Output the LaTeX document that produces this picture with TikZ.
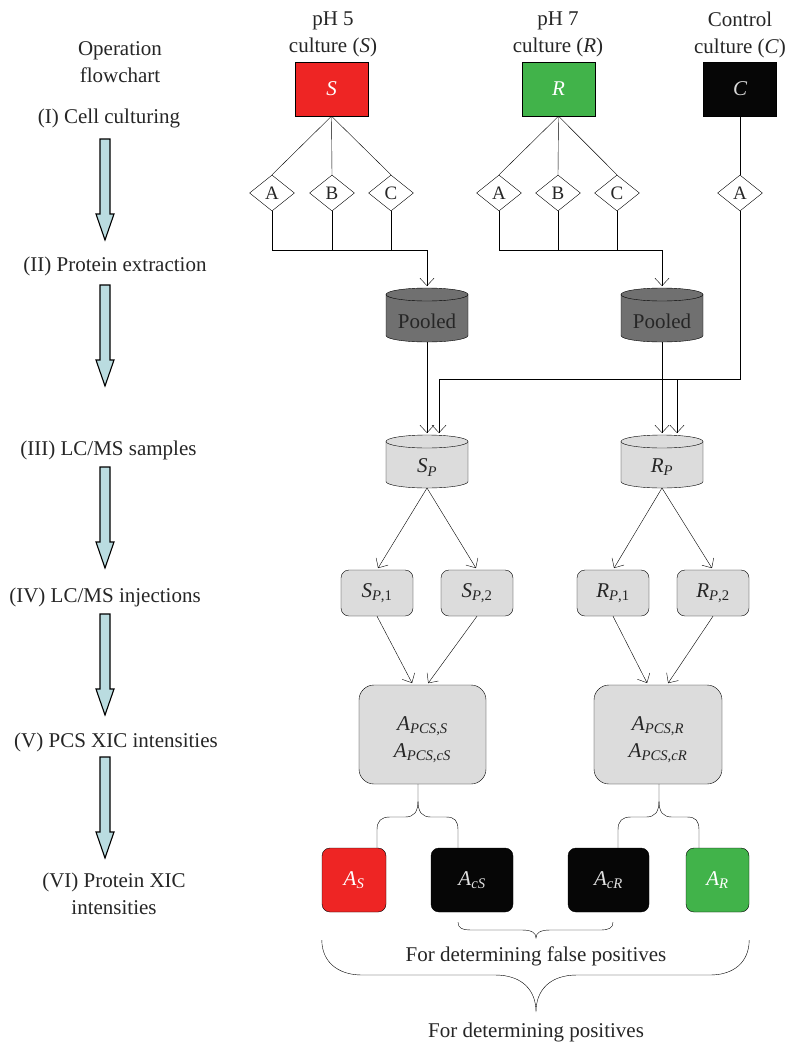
\documentclass[tikz,border=0pt]{standalone}
\usepackage{fontspec}
\setmainfont{Liberation Serif}
\usetikzlibrary{shapes.geometric,arrows.meta,calc}
\pgfdeclarelayer{bg}
\pgfsetlayers{bg,main}
\definecolor{redS}{HTML}{EE2524}
\definecolor{grnR}{HTML}{41B34A}
\definecolor{blkC}{HTML}{060606}
\definecolor{lgray}{HTML}{DCDCDC}
\definecolor{dgray}{HTML}{707070}
\definecolor{arrfill}{HTML}{BADCE0}
\definecolor{ink}{HTML}{262626}
\newcommand\cylbody[2]{%
  \begin{pgfonlayer}{bg}
  \path[draw,fill=#2] ($(#1.north west)+(0,6.5)$) -- ($(#1.south west)+(0,-6.5)$)
     arc[start angle=180,end angle=360,x radius=41pt,y radius=6.5pt]
     -- ($(#1.north east)+(0,6.5)$) -- cycle;
  \path[draw,fill=#2] ($(#1.north)+(0,6.5)$) ellipse[x radius=41pt,y radius=6.5pt];
  \end{pgfonlayer}}
\newcommand\stepArrow[1]{%
  \draw[fill=arrfill,line width=1.1pt] (100,#1) -- (110,#1) -- (110,#1+75) -- (114,#1+75)
    -- (105,#1+101) -- (96,#1+75) -- (100,#1+75) -- cycle;}
\tikzset{
  culture/.style={draw,minimum width=73pt,minimum height=54pt,inner sep=0pt,text=white,font=\fontsize{21}{25}\selectfont\itshape},
  dia/.style={diamond,draw,fill=white,aspect=1.25,minimum width=45pt,minimum height=36pt,inner sep=0pt,font=\fontsize{19}{22}\selectfont},
  cyl/.style={minimum width=82pt,minimum height=54pt,inner sep=0pt,outer sep=0pt},
  inj/.style={draw,fill=lgray,rounded corners=8pt,minimum width=72pt,minimum height=46pt,inner sep=0pt},
  big/.style={draw,fill=lgray,rounded corners=15pt,minimum width=127pt,minimum height=99pt,inner sep=0pt},
  res/.style={draw,rounded corners=8pt,minimum height=64pt,text=white,inner sep=0pt},
  arr/.style={-{Straight Barb[length=7.5pt,width=14pt]},shorten >=2pt},
}
\begin{document}
\begin{tikzpicture}[x=1pt,y=-1pt,line width=1.7pt,text=ink,font=\fontsize{21}{27}\selectfont]
\begin{pgfonlayer}{bg}
\fill[white] (0,0) rectangle (787,1045);
\end{pgfonlayer}
\useasboundingbox (0,0) rectangle (787,1045);

% left column
\node[align=center] (op) at (120,62) {Operation\\flowchart};
\node (s1) at (109,118) {(I) Cell culturing};
\node (s2) at (115,266) {(II) Protein extraction};
\node (s3) at (108.5,450) {(III) LC/MS samples};
\node (s4) at (105,597) {(IV) LC/MS injections};
\node (s5) at (116,742) {(V) PCS XIC intensities};
\node[align=center] (s6) at (114,894) {(VI) Protein XIC\\intensities};
\stepArrow{139}
\stepArrow{285}
\stepArrow{467}
\stepArrow{614}
\stepArrow{757}

% titles
\node[align=center] (tS) at (333,34.5) {pH 5\\culture (\textit{S})};
\node[align=center] (tR) at (558,34.5) {pH 7\\culture (\textit{R})};
\node[align=center] (tC) at (740,34.5) {Control\\culture (\textit{C})};

% culture boxes
\node[culture,fill=redS] (S) at (331.5,89) {S};
\node[culture,fill=grnR] (R) at (558.5,89) {R};
\node[culture,fill=blkC,text=white!85!black] (C) at (740,89) {C};

% diamonds
\node[dia] (SA) at (272,193) {A};
\node[dia] (SB) at (332,193) {B};
\node[dia] (SC) at (391,193) {C};
\node[dia] (RA) at (499,193) {A};
\node[dia] (RB) at (558,193) {B};
\node[dia] (RC) at (617,193) {C};
\node[dia] (CA) at (740,193) {A};
\foreach \d in {SA,SB,SC} \draw (S.south) -- (\d.north);
\foreach \d in {RA,RB,RC} \draw (R.south) -- (\d.north);
\draw (C.south) -- (CA.north);

% pooled
\node[cyl,label={[yshift=-6pt]center:Pooled}] (poolS) at (427,315) {};
\node[cyl,label={[yshift=-6pt]center:Pooled}] (poolR) at (662,315) {};
\cylbody{poolS}{dgray}
\cylbody{poolR}{dgray}

\coordinate (jS) at (427,250);
\coordinate (jR) at (662,250);
\draw (SA.south) |- (jS);
\draw (SB.south) -- (SB.south |- jS);
\draw (SC.south) -- (SC.south |- jS);
\draw[arr] (jS) -- (poolS.north);
\draw (RA.south) |- (jR);
\draw (RB.south) -- (RB.south |- jR);
\draw (RC.south) -- (RC.south |- jR);
\draw[arr] (jR) -- (poolR.north);

% LC/MS samples
\node[cyl,minimum height=53pt,label={[yshift=-6pt]center:{\textit{S}\textsubscript{\textit{P}}}}] (SP) at (427,461.5) {};
\node[cyl,minimum height=53pt,label={[yshift=-6pt]center:{\textit{R}\textsubscript{\textit{P}}}}] (RP) at (662,461.5) {};
\cylbody{SP}{lgray}
\cylbody{RP}{lgray}

\draw[arr] (poolS.south) -- (SP.north);
\draw[arr] (poolR.south) -- (RP.north);
\coordinate (cL) at (439,379);
\coordinate (cR) at (677,379);
\draw[arr] (CA.south) |- (cL) -- (cL |- SP.north);
\draw[arr] (cR) -- (cR |- RP.north);

% injections
\node[inj] (SP1) at (377,593) {\textit{S}\textsubscript{\textit{P},1}};
\node[inj] (SP2) at (477,593) {\textit{S}\textsubscript{\textit{P},2}};
\node[inj] (RP1) at (613,593) {\textit{R}\textsubscript{\textit{P},1}};
\node[inj] (RP2) at (713,593) {\textit{R}\textsubscript{\textit{P},2}};
\draw[arr] (SP.south) -- (SP1.north);
\draw[arr] (SP.south) -- (SP2.north);
\draw[arr] (RP.south) -- (RP1.north);
\draw[arr] (RP.south) -- (RP2.north);

% PCS boxes
\node[big,label={[yshift=-5pt,align=center]center:{\textit{A}\textsubscript{\textit{PCS},\textit{S}}\\\textit{A}\textsubscript{\textit{PCS},\textit{cS}}}}] (bigS) at (422.5,734.5) {};
\node[big,minimum width=128pt,label={[yshift=-5pt,align=center]center:{\textit{A}\textsubscript{\textit{PCS},\textit{R}}\\\textit{A}\textsubscript{\textit{PCS},\textit{cR}}}}] (bigR) at (658,734.5) {};
\draw[arr] (SP1.south) -- ($(bigS.north)+(-9.5,0)$);
\draw[arr] (SP2.south) -- ($(bigS.north)+(4.5,0)$);
\draw[arr] (RP1.south) -- ($(bigR.north)+(-10,0)$);
\draw[arr] (RP2.south) -- ($(bigR.north)+(9,0)$);

% protein boxes
\node[res,fill=redS,minimum width=64pt] (AS) at (354,880) {\textit{A}\textsubscript{\textit{S}}};
\node[res,fill=blkC,minimum width=82pt,text=white!88!black] (AcS) at (472,880) {\textit{A}\textsubscript{\textit{cS}}};
\node[res,fill=blkC,minimum width=81pt,text=white!88!black] (AcR) at (608.5,880) {\textit{A}\textsubscript{\textit{cR}}};
\node[res,fill=grnR,minimum width=63pt] (AR) at (717.5,880) {\textit{A}\textsubscript{\textit{R}}};

% split braces
\draw ($(bigS.south)+(-4.5,0)$) -- (418,801) .. controls (418,812) and (414,817) .. (405,817) -- (390,817)
   .. controls (381,817) and (377,821) .. (377,830) -- ($(AS.north)+(23,0)$);
\draw (418,801) .. controls (418,812) and (422,817) .. (431,817) -- (446,817)
   .. controls (455,817) and (458,821) .. (458,830) -- ($(AcS.north)+(-14,0)$);
\draw ($(bigR.south)+(1,0)$) -- (659,801) .. controls (659,812) and (655,817) .. (646,817) -- (631,817)
   .. controls (622,817) and (618,821) .. (618,830) -- ($(AcR.north)+(9.5,0)$);
\draw (659,801) .. controls (659,812) and (663,817) .. (672,817) -- (687,817)
   .. controls (696,817) and (699,821) .. (699,830) -- ($(AR.north)+(-18.5,0)$);

% grouping braces
\draw ($(AcS.south)+(-14,10)$) .. controls (458,928) and (462,930) .. (472,930) -- (522,930)
   .. controls (532,930) and (536,933) .. (536,938) .. controls (536,933) and (540,930) .. (550,930)
   -- (600,930) .. controls (609,930) and (613,928) .. ($(AcR.south)+(4.5,10)$);
\draw ($(AS.south west)+(0,28)$) .. controls (322,962) and (338,975) .. (362,975) -- (495,975)
   .. controls (522,975) and (536,990) .. (536,1012) .. controls (536,990) and (550,975) .. (577,975)
   -- (710,975) .. controls (734,975) and (749,962) .. ($(AR.south east)+(0,28)$);
\node (fp) at (536,956) {For determining false positives};
\node (pos) at (536,1032) {For determining positives};
\end{tikzpicture}
\end{document}
